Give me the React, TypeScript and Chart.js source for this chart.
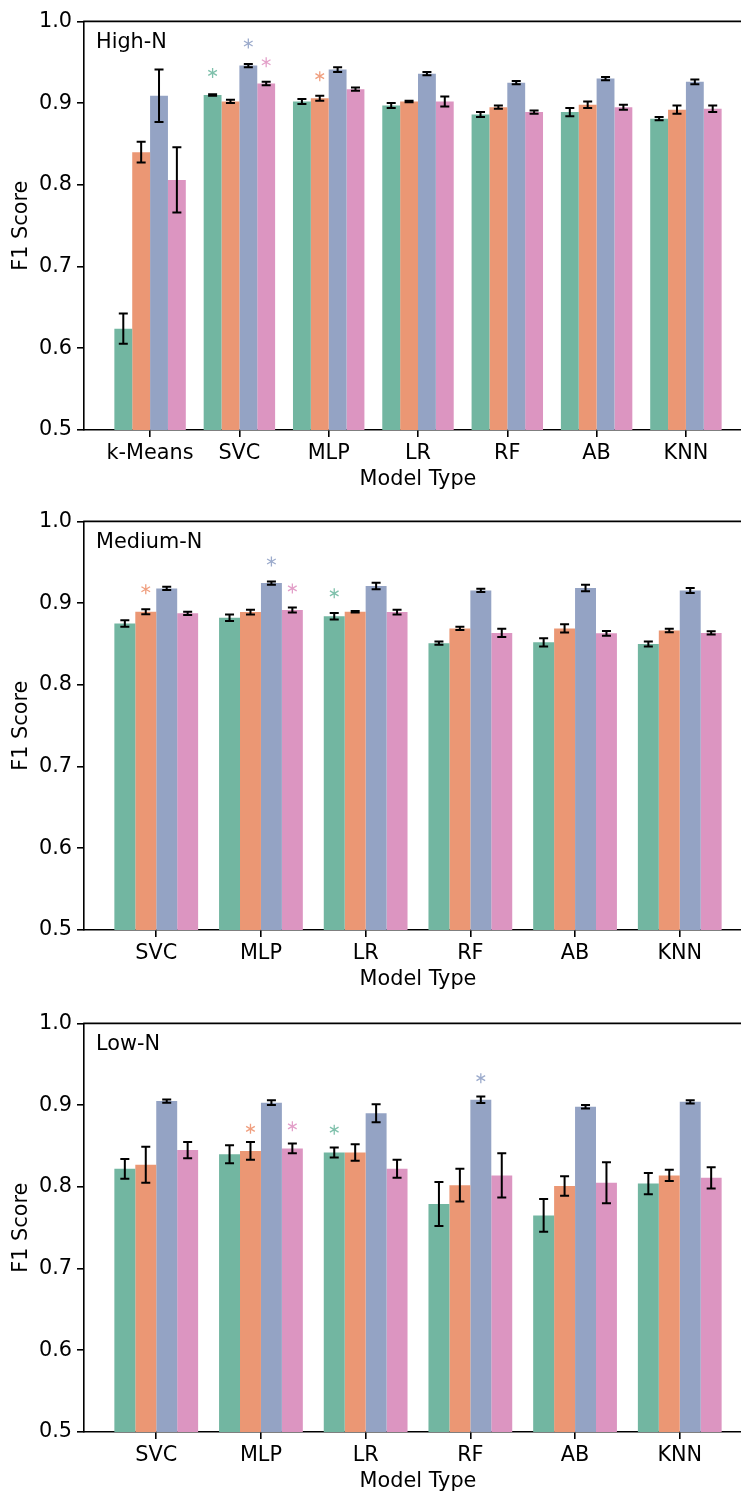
import React, { useEffect, useRef } from "react";
import { Chart, registerables } from "chart.js";

Chart.register(...registerables);

const FONT = "DejaVu Sans";
const SERIES_COLORS = ["#72b6a1", "#eb9774", "#94a3c4", "#dc95c1"];
const STAR_COLORS = ["#80c1ac", "#f09f7f", "#9cabcc", "#e3a0c9"];
const SERIES_LABELS = ["Series 1", "Series 2", "Series 3", "Series 4"];
const Y_TICKS = [0.5, 0.6, 0.7, 0.8, 0.9, 1.0];

// ---- High-N ----
const highCategories = ["k-Means", "SVC", "MLP", "LR", "RF", "AB", "KNN"];
const highGreen = [0.624, 0.910, 0.902, 0.897, 0.886, 0.889, 0.881];
const highGreenErr = [0.0185, 0.001, 0.003, 0.003, 0.003, 0.005, 0.002];
const highOrange = [0.840, 0.902, 0.906, 0.902, 0.895, 0.898, 0.892];
const highOrangeErr = [0.0126, 0.002, 0.003, 0.001, 0.002, 0.004, 0.005];
const highBlue = [0.909, 0.946, 0.941, 0.936, 0.925, 0.930, 0.926];
const highBlueErr = [0.032, 0.002, 0.003, 0.002, 0.002, 0.002, 0.003];
const highPink = [0.806, 0.924, 0.917, 0.902, 0.889, 0.895, 0.893];
const highPinkErr = [0.040, 0.002, 0.002, 0.006, 0.002, 0.003, 0.004];
// [series, category, value]
const highStars: [number, number, number][] = [
  [0, 1, 0.937],
  [2, 1, 0.973],
  [3, 1, 0.950],
  [1, 2, 0.933],
];

// ---- Medium-N ----
const medCategories = ["SVC", "MLP", "LR", "RF", "AB", "KNN"];
const medGreen = [0.875, 0.882, 0.884, 0.851, 0.852, 0.850];
const medGreenErr = [0.004, 0.004, 0.004, 0.002, 0.005, 0.003];
const medOrange = [0.8895, 0.889, 0.8895, 0.869, 0.869, 0.8665];
const medOrangeErr = [0.003, 0.003, 0.001, 0.002, 0.005, 0.002];
const medBlue = [0.918, 0.9245, 0.921, 0.9155, 0.9185, 0.9155];
const medBlueErr = [0.002, 0.002, 0.004, 0.002, 0.004, 0.003];
const medPink = [0.8875, 0.8915, 0.889, 0.8635, 0.863, 0.8635];
const medPinkErr = [0.002, 0.003, 0.003, 0.005, 0.003, 0.002];
const medStars: [number, number, number][] = [
  [1, 0, 0.917],
  [2, 1, 0.951],
  [3, 1, 0.918],
  [0, 2, 0.912],
];

// ---- Low-N ----
const lowCategories = ["SVC", "MLP", "LR", "RF", "AB", "KNN"];
const lowGreen = [0.822, 0.840, 0.842, 0.779, 0.765, 0.804];
const lowGreenErr = [0.012, 0.011, 0.006, 0.027, 0.020, 0.013];
const lowOrange = [0.827, 0.844, 0.842, 0.802, 0.801, 0.814];
const lowOrangeErr = [0.022, 0.011, 0.010, 0.020, 0.012, 0.007];
const lowBlue = [0.905, 0.903, 0.890, 0.9065, 0.898, 0.904];
const lowBlueErr = [0.002, 0.003, 0.011, 0.004, 0.002, 0.002];
const lowPink = [0.845, 0.847, 0.822, 0.814, 0.805, 0.811];
const lowPinkErr = [0.010, 0.006, 0.011, 0.027, 0.025, 0.013];
const lowStars: [number, number, number][] = [
  [1, 1, 0.871],
  [3, 1, 0.874],
  [0, 2, 0.870],
  [2, 3, 0.933],
];

type PanelDef = {
  title: string;
  categories: string[];
  values: number[][];
  errors: number[][];
  stars: [number, number, number][];
  top: number;
};

const PANELS: PanelDef[] = [
  {
    title: "High-N",
    categories: highCategories,
    values: [highGreen, highOrange, highBlue, highPink],
    errors: [highGreenErr, highOrangeErr, highBlueErr, highPinkErr],
    stars: highStars,
    top: 6,
  },
  {
    title: "Medium-N",
    categories: medCategories,
    values: [medGreen, medOrange, medBlue, medPink],
    errors: [medGreenErr, medOrangeErr, medBlueErr, medPinkErr],
    stars: medStars,
    top: 506,
  },
  {
    title: "Low-N",
    categories: lowCategories,
    values: [lowGreen, lowOrange, lowBlue, lowPink],
    errors: [lowGreenErr, lowOrangeErr, lowBlueErr, lowPinkErr],
    stars: lowStars,
    top: 1008,
  },
];

const CANVAS_W = 760;
const CANVAS_H = 494;

function drawStar(ctx: CanvasRenderingContext2D, x: number, y: number, r: number, color: string) {
  ctx.save();
  ctx.strokeStyle = color;
  ctx.lineWidth = 1.3;
  ctx.beginPath();
  for (let k = 0; k < 3; k++) {
    const a = Math.PI / 2 + (k * Math.PI) / 3;
    const dx = Math.cos(a) * r;
    const dy = Math.sin(a) * r;
    ctx.moveTo(x - dx, y - dy);
    ctx.lineTo(x + dx, y + dy);
  }
  ctx.stroke();
  ctx.restore();
}

function PanelChart({ panel }: { panel: PanelDef }) {
  const ref = useRef<HTMLCanvasElement | null>(null);

  useEffect(() => {
    if (!ref.current) return;
    const n = panel.categories.length;
    const span = n - 1 + 0.8;
    const xMin = -0.4 - 0.05 * span;
    const xMax = n - 1 + 0.4 + 0.05 * span;

    const datasets = panel.values.map((vals, s) => ({
      type: "bar" as const,
      label: SERIES_LABELS[s],
      data: vals.map((v, i) => ({ x: i, y: v })),
      backgroundColor: SERIES_COLORS[s],
      borderWidth: 0,
      barPercentage: 1,
      categoryPercentage: 0.8,
    }));

    const overlay = {
      id: "overlay",
      afterDatasetsDraw(chart: any) {
        const ctx: CanvasRenderingContext2D = chart.ctx;
        const ys = chart.scales.y;
        const area = chart.chartArea;
        ctx.save();
        // error bars
        ctx.strokeStyle = "#000";
        ctx.lineWidth = 2;
        panel.errors.forEach((errs, s) => {
          const meta = chart.getDatasetMeta(s);
          errs.forEach((e, i) => {
            const el = meta.data[i];
            if (!el) return;
            const v = panel.values[s][i];
            const x = el.x;
            const y1 = ys.getPixelForValue(v + e);
            const y2 = ys.getPixelForValue(v - e);
            ctx.beginPath();
            ctx.moveTo(x, y1);
            ctx.lineTo(x, y2);
            ctx.moveTo(x - 4.5, y1);
            ctx.lineTo(x + 4.5, y1);
            ctx.moveTo(x - 4.5, y2);
            ctx.lineTo(x + 4.5, y2);
            ctx.stroke();
          });
        });
        // significance stars
        panel.stars.forEach(([s, i, v]) => {
          const el = chart.getDatasetMeta(s).data[i];
          if (!el) return;
          drawStar(ctx, el.x, ys.getPixelForValue(v), 5, STAR_COLORS[s]);
        });
        // top spine (right spine falls outside the page)
        ctx.strokeStyle = "#000";
        ctx.lineWidth = 1.6;
        ctx.beginPath();
        ctx.moveTo(area.left - 0.8, area.top);
        ctx.lineTo(area.right, area.top);
        ctx.lineTo(area.right, area.bottom);
        ctx.stroke();
        // panel title
        ctx.fillStyle = "#000";
        ctx.font = `20.8px "${FONT}"`;
        ctx.textAlign = "left";
        ctx.textBaseline = "alphabetic";
        ctx.fillText(panel.title, area.left + 12, area.top + 26.5);
        ctx.restore();
      },
    };

    const chart = new Chart(ref.current, {
      type: "bar",
      data: { datasets },
      options: {
        animation: false,
        responsive: false,
        devicePixelRatio: 1,
        layout: { padding: { top: 12, left: 0, right: 8, bottom: 0 } },
        plugins: {
          legend: { display: false },
          tooltip: { enabled: false },
          title: { display: false },
        },
        scales: {
          x: {
            type: "linear",
            min: xMin,
            max: xMax,
            offset: false,
            afterBuildTicks: (axis: any) => {
              axis.ticks = panel.categories.map((_, i) => ({ value: i }));
            },
            afterFit: (axis: any) => {
              axis.height = 70;
            },
            ticks: {
              color: "#000",
              font: { family: FONT, size: 20.8, lineHeight: 1 },
              padding: 6,
              maxRotation: 0,
              autoSkip: false,
              callback: (value: any) => panel.categories[Math.round(Number(value))] ?? "",
            },
            grid: {
              display: true,
              drawOnChartArea: false,
              drawTicks: true,
              tickLength: 7,
              color: "#000",
              lineWidth: 1.6,
              offset: false,
            },
            border: { display: true, color: "#000", width: 1.6 },
            title: {
              display: true,
              text: "Model Type",
              color: "#000",
              font: { family: FONT, size: 20.8, lineHeight: 1 },
              padding: { top: 0, bottom: 10 },
            },
          },
          y: {
            type: "linear",
            min: 0.5,
            max: 1.0,
            beginAtZero: false,
            afterBuildTicks: (axis: any) => {
              axis.ticks = Y_TICKS.map((v) => ({ value: v }));
            },
            afterFit: (axis: any) => {
              axis.width = 84;
            },
            ticks: {
              color: "#000",
              font: { family: FONT, size: 20.8, lineHeight: 1 },
              padding: 5,
              callback: (value: any) => Number(value).toFixed(1),
            },
            grid: {
              display: true,
              drawOnChartArea: false,
              drawTicks: true,
              tickLength: 7,
              color: "#000",
              lineWidth: 1.6,
            },
            border: { display: true, color: "#000", width: 1.6 },
            title: {
              display: true,
              text: "F1 Score",
              color: "#000",
              font: { family: FONT, size: 20.8, lineHeight: 1 },
              padding: { top: 11, bottom: 0 },
            },
          },
        },
      } as any,
      plugins: [overlay],
    });
    return () => chart.destroy();
  }, [panel]);

  return (
    <canvas
      ref={ref}
      width={CANVAS_W}
      height={CANVAS_H}
      style={{
        position: "absolute",
        left: 0,
        top: panel.top,
        width: CANVAS_W,
        height: CANVAS_H,
      }}
    />
  );
}

export default function App() {
  return (
    <div
      style={{
        position: "fixed",
        left: 0,
        top: 0,
        width: 741,
        height: 1491,
        overflow: "hidden",
        background: "#fff",
      }}
    >
      {PANELS.map((p) => (
        <PanelChart key={p.title} panel={p} />
      ))}
    </div>
  );
}
